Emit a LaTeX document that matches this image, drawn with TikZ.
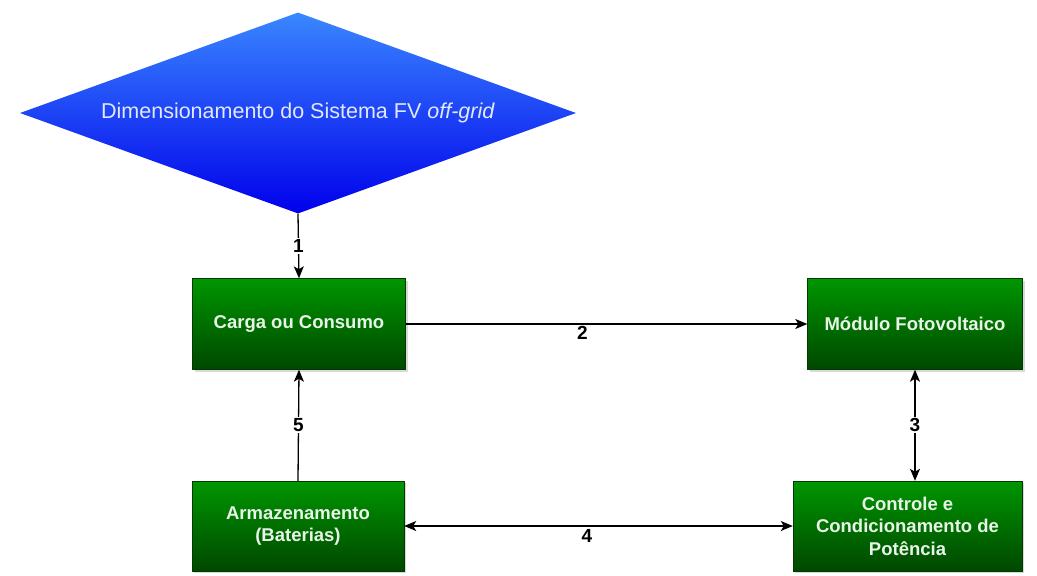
\documentclass[tikz,border=0pt]{standalone}
\usepackage{fontspec}
\setmainfont{Liberation Sans}
\usetikzlibrary{shapes.geometric,arrows.meta,shadows}
\definecolor{gtop}{RGB}{0,150,0}
\definecolor{gbot}{RGB}{0,72,0}
\definecolor{btop}{RGB}{58,135,255}
\definecolor{bbot}{RGB}{0,0,235}
\definecolor{boxtxt}{RGB}{232,244,232}
\definecolor{diatxt}{RGB}{225,232,255}
\tikzset{
  gbox/.style={rectangle, draw=gbot!80!black, line width=0.4pt, top color=gtop, bottom color=gbot,
    text=boxtxt, font=\bfseries\fontsize{18.5}{22.5}\selectfont, align=center, inner sep=0pt,
    drop shadow={opacity=0.3, shadow xshift=2pt, shadow yshift=-2pt}},
  dia/.style={diamond, aspect=2.77, top color=btop, bottom color=bbot, draw=none, inner sep=0pt,
    text=diatxt, font=\fontsize{21.5}{25}\selectfont},
  conn/.style={line width=1.3pt, draw=black},
  tip/.style={-{Stealth[length=12pt,width=10pt,inset=3pt]}},
  both/.style={{Stealth[length=12pt,width=10pt,inset=3pt]}-{Stealth[length=12pt,width=10pt,inset=3pt]}},
  lbl/.style={fill=white, inner sep=1.5pt, font=\bfseries\fontsize{19}{22}\selectfont, text=black}
}
\begin{document}
\begin{tikzpicture}[x=1pt,y=-1pt]
\useasboundingbox (0,0) rectangle (1037,576);
\node[dia, minimum width=556pt, minimum height=201pt] (D) at (298,113)
  {\raisebox{-3pt}{Dimensionamento do Sistema FV \textit{off-grid}}};
\node[gbox, minimum width=213pt, minimum height=91pt] (C) at (299,324) {Carga ou Consumo};
\node[gbox, minimum width=215pt, minimum height=91pt] (M) at (915,324) {Módulo Fotovoltaico};
\node[gbox, minimum width=212pt, minimum height=90pt] (A) at (298,526) {Armazenamento\\(Baterias)};
\node[gbox, minimum width=229pt, minimum height=90pt] (P) at (907.5,526) {Controle e\\Condicionamento de\\Potência};

\draw[conn, tip] (D.south) -- node[lbl, pos=0.5] {1} (C.north);
\draw[conn, tip] (C.east) -- node[lbl, pos=0.44, yshift=-9pt] {2} (M.west);
\draw[conn, both] (M.south) -- node[lbl] {3} (M.south |- P.north);
\draw[conn, both] (A.east) -- node[lbl, pos=0.47, yshift=-10pt] {4} (P.west);
\draw[conn, tip] (A.north) -- node[lbl] {5} (C.south);
\end{tikzpicture}
\end{document}
